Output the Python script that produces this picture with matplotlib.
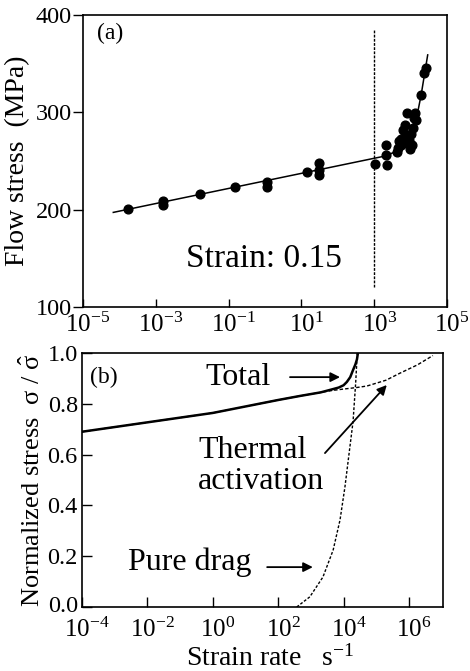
import matplotlib
matplotlib.use("Agg")
import matplotlib.pyplot as plt
from matplotlib.transforms import ScaledTranslation

plt.rcParams['font.family'] = ['Liberation Serif', 'DejaVu Serif']
plt.rcParams['mathtext.fontset'] = 'custom'
plt.rcParams['mathtext.rm'] = 'Liberation Serif'
plt.rcParams['mathtext.it'] = 'Liberation Serif:italic'
plt.rcParams['mathtext.bf'] = 'Liberation Serif:bold'

# ---------------- data: panel (a) ----------------
pts_rate = [1.7e-4, 1.6e-3, 1.6e-3, 1.6e-2, 0.15, 1.15, 1.15, 14, 30, 30, 30,
            1070, 2100, 2100, 2200, 4300, 4600, 4900, 5300, 5500, 5900, 6300,
            6800, 7400, 8100, 8500, 9300, 9800, 10000, 11200, 12000, 12300,
            13500, 14000, 19000, 23500, 25700]
pts_stress = [201, 209, 205, 216.5, 223, 228, 223, 238.5, 248, 241, 236,
              247, 266, 256, 246, 259, 263, 271, 266, 273, 268, 282,
              287, 275, 299, 270, 272, 262, 278, 266, 284, 294,
              299, 292, 318, 340, 346]
fit_rate = [6.8e-5, 1e-3, 1e-1, 10, 1e3, 2e3, 3.55e3, 6e3, 1.15e4, 1.58e4,
            1.95e4, 2.4e4, 2.95e4]
fit_stress = [197.2, 206.3, 221.8, 237.3, 252.8, 255.1, 259, 268, 281.7,
              300.7, 318, 338.6, 359]
dash_rate = [1e3, 1e3]
dash_stress = [121, 385]
a_xticks = [1e-5, 1e-3, 1e-1, 1e1, 1e3, 1e5]
a_xlabels = [r'$\mathregular{10^{-5}}$', r'$\mathregular{10^{-3}}$',
             r'$\mathregular{10^{-1}}$', r'$\mathregular{10^{1}}$',
             r'$\mathregular{10^{3}}$', r'$\mathregular{10^{5}}$']
a_yticks = [100, 200, 300, 400]

# ---------------- data: panel (b) ----------------
thermal_rate = [1e-4, 1e-2, 1, 1e2, 4.7e2, 2e3, 4.8e3, 1e4, 2.5e4, 5.2e4,
                2e5, 5.2e5, 1.8e6, 5.4e6]
thermal_val = [0.690, 0.727, 0.764, 0.815, 0.831, 0.845, 0.853, 0.858,
               0.864, 0.870, 0.893, 0.920, 0.953, 0.990]
total_rate = [1e-4, 1e-2, 1, 1e2, 4.7e2, 2e3, 4.8e3, 7.1e3, 1.0e4, 1.26e4,
              1.6e4, 1.95e4, 2.3e4, 2.57e4, 2.75e4]
total_val = [0.690, 0.727, 0.764, 0.815, 0.831, 0.845, 0.858, 0.864, 0.873,
             0.886, 0.905, 0.933, 0.955, 0.975, 1.0]
drag_rate = [3.7e2, 9.3e2, 2.34e3, 4.8e3, 7.8e3, 1.1e4, 1.48e4, 1.95e4,
             2.34e4, 2.63e4]
drag_val = [0.0, 0.04, 0.118, 0.224, 0.343, 0.472, 0.606, 0.73, 0.88, 1.0]
b_xticks = [1e-4, 1e-2, 1e0, 1e2, 1e4, 1e6]
b_xlabels = [r'$\mathregular{10^{-4}}$', r'$\mathregular{10^{-2}}$',
             r'$\mathregular{10^{0}}$', r'$\mathregular{10^{2}}$',
             r'$\mathregular{10^{4}}$', r'$\mathregular{10^{6}}$']
b_yticks = [0.0, 0.2, 0.4, 0.6, 0.8, 1.0]
b_ylabels = ['0.0', '0.2', '0.4', '0.6', '0.8', '1.0']

fig = plt.figure(figsize=(4.70, 6.71), dpi=100)
XTICK_FS = 18
YTICK_FS = 17.5
shift = ScaledTranslation(5 / 100, 0, fig.dpi_scale_trans)
lift = ScaledTranslation(0, 3 / 100, fig.dpi_scale_trans)

arrow_kw = dict(arrowstyle='-|>', color='black', lw=1.3,
                mutation_scale=14, shrinkA=0, shrinkB=0)

# ---------------- panel (a) ----------------
ax1 = fig.add_axes([83/470, 1-307/671, 364/470, 292/671])
ax1.set_xscale('log')
ax1.set_xlim(1e-5, 1e5)
ax1.set_ylim(100, 400)
ax1.plot(fit_rate, fit_stress, color='black', lw=1.1)
ax1.plot(pts_rate, pts_stress, 'o', color='black', ms=6.3, mec='black')
ax1.plot(dash_rate, dash_stress, color='black', lw=1.0, dashes=(2, 1))
ax1.set_xticks(a_xticks)
ax1.set_xticklabels(a_xlabels, fontsize=XTICK_FS)
ax1.xaxis.set_minor_locator(matplotlib.ticker.NullLocator())
ax1.set_yticks(a_yticks)
ax1.set_yticklabels([str(v) for v in a_yticks], fontsize=YTICK_FS)
ax1.tick_params(axis='x', direction='in', length=6, width=1, pad=4)
ax1.tick_params(axis='y', direction='out', length=7, width=1, pad=1)
for lab in ax1.get_xticklabels():
    lab.set_transform(lab.get_transform() + shift)
ax1.set_ylabel('Flow stress  (MPa)', fontsize=20, labelpad=4)
ax1.text(2.4e-5, 381, '(a)', fontsize=17, ha='left', va='center')
ax1.text(0.93, 149.5, 'Strain: 0.15', fontsize=24, ha='center', va='center')
for s in ax1.spines.values():
    s.set_linewidth(1.2)

# ---------------- panel (b) ----------------
ax2 = fig.add_axes([82/470, 1-607/671, 361/470, 254/671])
ax2.set_xscale('log')
ax2.set_xlim(1e-4, 1.1e7)
ax2.set_ylim(0, 1.0)
ax2.plot(thermal_rate, thermal_val, color='black', lw=1.0, dashes=(2.5, 1.5))
ax2.plot(drag_rate, drag_val, color='black', lw=1.0, dashes=(2, 1.3))
ax2.plot(total_rate, total_val, color='black', lw=1.8)
ax2.set_xticks(b_xticks)
ax2.set_xticklabels(b_xlabels, fontsize=XTICK_FS)
ax2.xaxis.set_minor_locator(matplotlib.ticker.NullLocator())
ax2.set_yticks(b_yticks)
ax2.set_yticklabels(b_ylabels, fontsize=YTICK_FS)
ax2.tick_params(axis='x', direction='in', length=7, width=1, pad=8)
ax2.tick_params(axis='y', direction='in', length=7, width=1, pad=3)
for lab in ax2.get_xticklabels():
    lab.set_transform(lab.get_transform() + shift)
ylabs = ax2.get_yticklabels()
ylabs[0].set_transform(ylabs[0].get_transform() + lift)
ax2.set_xlabel(r'Strain rate   s$^{\mathregular{-1}}$', fontsize=20, labelpad=0)
ax2.xaxis.set_label_coords(0.5 + 8 / 361, -0.15)
ax2.set_ylabel(r'Normalized stress  σ / $\hat{\mathrm{\sigma}}$', fontsize=19,
               labelpad=2)
ax2.text(1.8e-4, 0.905, '(b)', fontsize=17, ha='left', va='center')
ax2.text(6e1, 0.905, 'Total', fontsize=23, ha='right', va='center')
ax2.annotate('', xy=(7.8e3, 0.905), xytext=(2.3e2, 0.905), arrowprops=arrow_kw)
ax2.text(0.355, 0.555, 'Thermal\nactivation', fontsize=23, ha='left',
         va='center', linespacing=1.12, multialignment='left')
ax2.annotate('', xy=(2.1e5, 0.874), xytext=(2.7e3, 0.606), arrowprops=arrow_kw)
ax2.text(0.195, 0.175, 'Pure drag', fontsize=23, ha='center', va='center')
ax2.annotate('', xy=(1.15e3, 0.157), xytext=(46, 0.157), arrowprops=arrow_kw)
for s in ax2.spines.values():
    s.set_linewidth(1.2)

fig.savefig('out.png', dpi=100)
